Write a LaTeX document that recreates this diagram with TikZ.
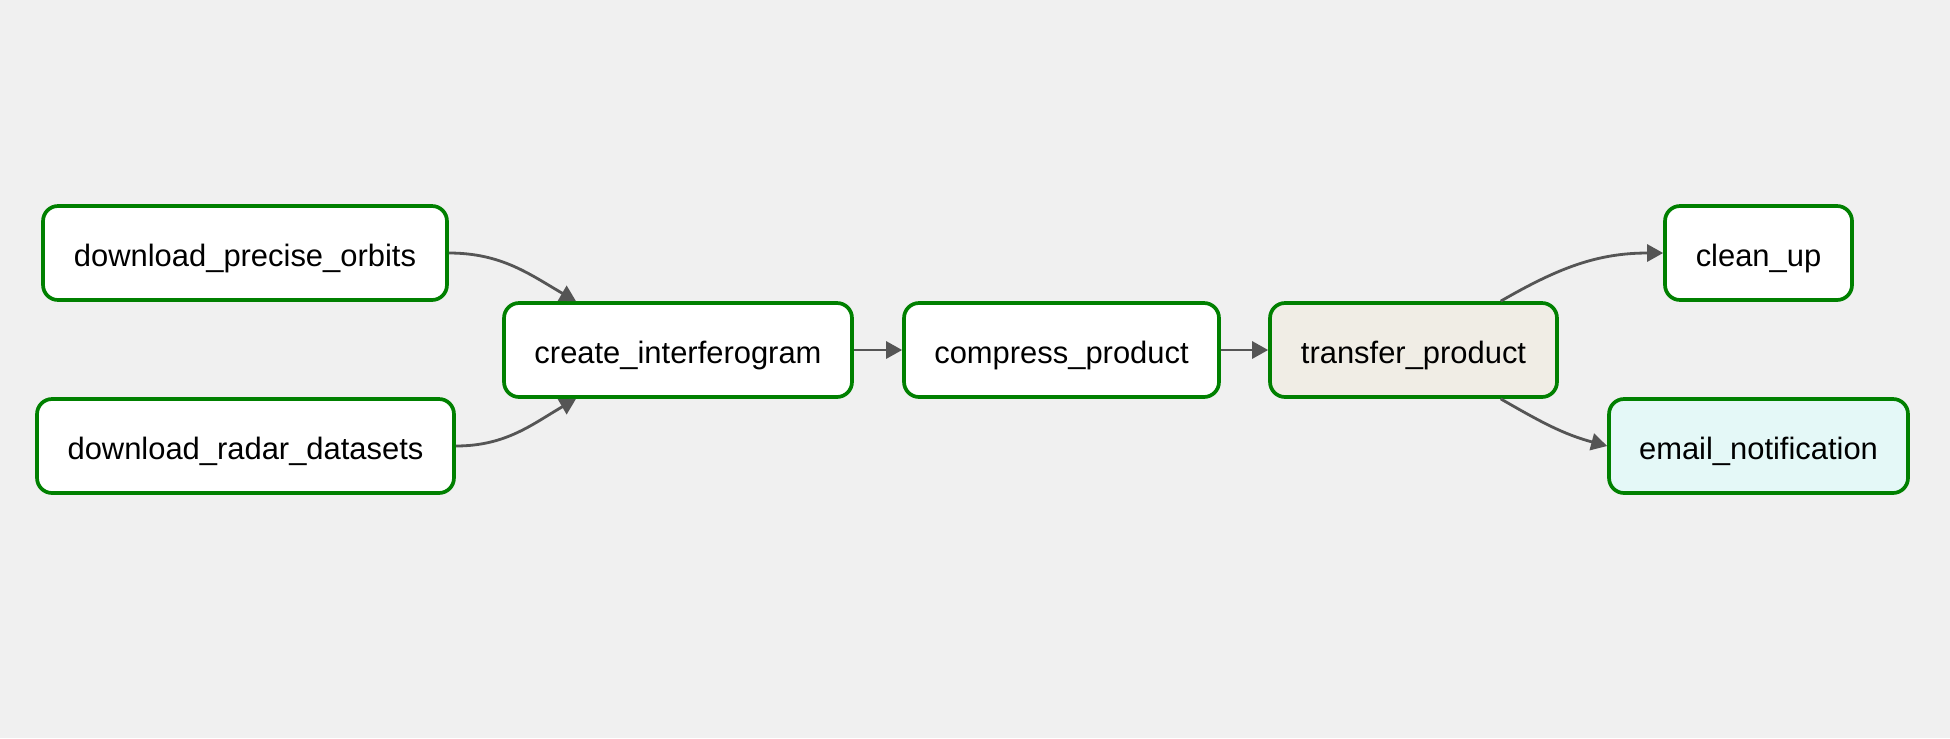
\documentclass[tikz,border=0pt]{standalone}
\usepackage{fontspec}
\setmainfont{Liberation Sans}
\usepackage{xcolor}
\usepackage{tikz}
\usetikzlibrary{arrows.meta,calc}
\definecolor{canvas}{HTML}{F0F0F0}
\definecolor{done}{HTML}{008000}
\definecolor{edge}{HTML}{555555}
\definecolor{running}{HTML}{F0EDE5}
\definecolor{queued}{HTML}{E4F8F7}
\tikzset{
  task/.style={draw=done,fill=white,line width=2.1pt,rounded corners=0.3cm,minimum height=1.88cm,inner sep=0pt,text height=0.65cm,text depth=0.13cm,font=\fontsize{17.6}{21}\selectfont,text=black},
  flow/.style={-{Triangle[length=0.32cm,width=0.34cm]},line width=1.6pt,color=edge},
}

\begin{document}
\begin{tikzpicture}[x=0.02cm,y=-0.02cm]
    \fill[canvas] (0,0) rectangle (1950,738);
    \useasboundingbox (0,0) rectangle (1950,738);
    \node[task,minimum width=8.08cm] (dpo) at (245,253) {download\_precise\_orbits};
    \node[task,minimum width=8.34cm] (drd) at (245.5,446) {download\_radar\_datasets};
    \node[task,minimum width=6.96cm] (ci) at (678,350) {create\_interferogram};
    \node[task,minimum width=6.30cm] (cp) at (1061.5,350) {compress\_product};
    \node[task,minimum width=5.74cm,fill=running] (tp) at (1413.5,350) {transfer\_product};
    \node[task,minimum width=3.74cm] (cu) at (1758.5,253) {clean\_up};
    \node[task,minimum width=5.98cm,fill=queued] (en) at (1758.5,446) {email\_notification};
    \draw[flow] (dpo.east) to[out=0,in=150] ($(ci.north west)!0.21!(ci.north east)$);
    \draw[flow] (drd.east) to[out=0,in=210] ($(ci.south west)!0.21!(ci.south east)$);
    \draw[flow] (ci) -- (cp);
    \draw[flow] (cp) -- (tp);
    \draw[flow] ($(tp.north)!0.6!(tp.north east)$) to[out=30,in=180] (cu.west);
    \draw[flow] ($(tp.south)!0.6!(tp.south east)$) to[out=-30,in=165] (en.west);
\end{tikzpicture}
\end{document}
